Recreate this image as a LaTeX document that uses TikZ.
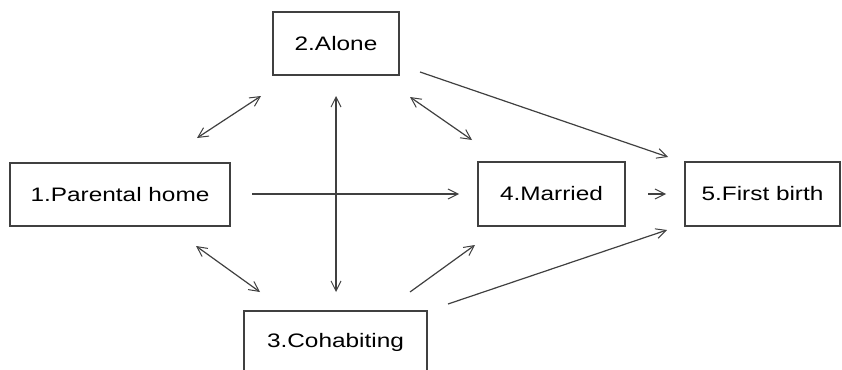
\documentclass[tikz,border=0pt]{standalone}
\usepackage{fontspec}
\setmainfont[FakeStretch=1.25]{Liberation Sans}
\usetikzlibrary{arrows.meta}
\begin{document}
\begin{tikzpicture}[x=1pt,y=-1pt,
  box/.style={draw=black!75, line width=1.6pt, rectangle, inner sep=0pt, text=black, font=\fontsize{19.5}{22}\selectfont},
  tip/.style={},
  conn/.style={draw=black!75, line width=1.2pt, -{Straight Barb[length=10pt,width=10pt,line width=1pt]}},
  bconn/.style={draw=black!75, line width=1.2pt, {Straight Barb[length=10pt,width=10pt,line width=1pt]}-{Straight Barb[length=10pt,width=10pt,line width=1pt]}}]
\useasboundingbox (0,0) rectangle (842,369);
\node[box, minimum width=220pt, minimum height=63pt] (n1) at (120,194.5) {1.Parental home};
\node[box, minimum width=126pt, minimum height=63pt] (n2) at (336,43.5) {2.Alone};
\node[box, minimum width=183pt, minimum height=63pt] (n3) at (335.5,342.5) {3.Cohabiting};
\node[box, minimum width=147pt, minimum height=64pt] (n4) at (551.5,194) {4.Married};
\node[box, minimum width=155pt, minimum height=64pt] (n5) at (762.5,194) {5.First birth};
% connector end points
\coordinate (p12a) at (197,138); \coordinate (p12b) at (261,96);
\coordinate (p23a) at (336,96);  \coordinate (p23b) at (336,292);
\coordinate (p24a) at (410,97);  \coordinate (p24b) at (472,140);
\coordinate (p25a) at (420,72);  \coordinate (p25b) at (668,157);
\coordinate (p14a) at (252,194); \coordinate (p14b) at (459,194);
\coordinate (p45a) at (648,194); \coordinate (p45b) at (666,194);
\coordinate (p13a) at (196,246); \coordinate (p13b) at (260,292);
\coordinate (p34a) at (410,292); \coordinate (p34b) at (475,245);
\coordinate (p35a) at (448,304); \coordinate (p35b) at (667,230);
\draw[bconn] (p12a) -- (p12b);
\draw[bconn] (p23a) -- (p23b);
\draw[bconn] (p24a) -- (p24b);
\draw[conn] (p25a) -- (p25b);
\draw[conn] (p14a) -- (p14b);
\draw[conn] (p45a) -- (p45b);
\draw[bconn] (p13a) -- (p13b);
\draw[conn] (p34a) -- (p34b);
\draw[conn] (p35a) -- (p35b);
\end{tikzpicture}
\end{document}
